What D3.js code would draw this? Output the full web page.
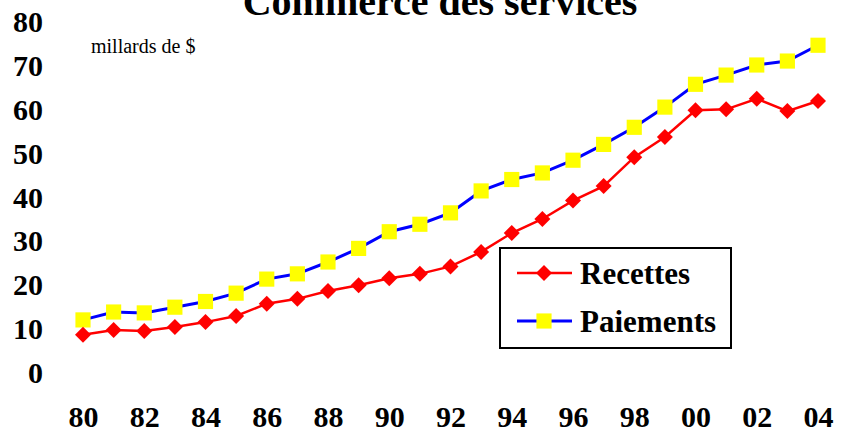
<!DOCTYPE html>
<html lang="fr">
<head>
<meta charset="UTF-8">
<title>Commerce des services</title>
<style>
  body { margin: 0; background: #fff; }
  svg { font-family: "Liberation Serif", "Times New Roman", serif; display: block; }
</style>
</head>
<body>
<svg width="850" height="431"></svg>
<script src="https://d3js.org/d3.v7.min.js"></script>
<script>
// data: milliards de $, 1980-2004
var years = [1980, 1981, 1982, 1983, 1984, 1985, 1986, 1987, 1988, 1989, 1990, 1991, 1992,
             1993, 1994, 1995, 1996, 1997, 1998, 1999, 2000, 2001, 2002, 2003, 2004];
var recettes = [8.7, 9.8, 9.6, 10.5, 11.6, 13.0, 15.8, 16.9, 18.7, 20.0, 21.6, 22.6, 24.3,
                27.6, 31.9, 35.1, 39.3, 42.6, 49.2, 53.8, 59.9, 60.1, 62.5, 59.7, 62.0];
var paiements = [12.1, 13.9, 13.7, 15.0, 16.3, 18.2, 21.4, 22.6, 25.3, 28.4, 32.2, 33.9, 36.5,
                 41.5, 44.1, 45.6, 48.5, 52.1, 56.0, 60.6, 65.8, 67.9, 70.2, 71.1, 74.7];
var yTicks = [0, 10, 20, 30, 40, 50, 60, 70, 80];
var xTicks = [1980, 1982, 1984, 1986, 1988, 1990, 1992, 1994, 1996, 1998, 2000, 2002, 2004];

var svg = d3.select("svg");

var x = d3.scaleLinear().domain([1980, 2004]).range([83, 818]);
var y = d3.scaleLinear().domain([0, 80]).range([373, 22]);

// title (clipped at the top, as in the original)
svg.append("text")
    .attr("x", 440).attr("y", 15)
    .attr("text-anchor", "middle")
    .style("font-size", "40px").style("font-weight", "bold")
    .text("Commerce des services");

svg.append("text")
    .attr("x", 91).attr("y", 53)
    .style("font-size", "20px")
    .text("millards de $");

// axes, no lines
var yAxis = svg.append("g")
    .attr("transform", "translate(49,0)")
    .call(d3.axisLeft(y).tickValues(yTicks).tickSize(0).tickPadding(6));
var xAxis = svg.append("g")
    .attr("transform", "translate(0,403)")
    .call(d3.axisBottom(x).tickValues(xTicks).tickSize(0).tickPadding(3)
        .tickFormat(function(d) { return String(d).slice(2); }));

[yAxis, xAxis].forEach(function(a) {
    a.select(".domain").remove();
    a.selectAll("text")
        .attr("fill", "#000")
        .style("font-family", "'Liberation Serif', 'Times New Roman', serif")
        .style("font-size", "30px").style("font-weight", "bold");
});

var line = d3.line()
    .x(function(d) { return x(d[0]); })
    .y(function(d) { return y(d[1]); });

var recData = years.map(function(yr, i) { return [yr, recettes[i]]; });
var paiData = years.map(function(yr, i) { return [yr, paiements[i]]; });

svg.append("path").datum(paiData)
    .attr("d", line).attr("fill", "none")
    .attr("stroke", "#0000ff").attr("stroke-width", 3);

svg.append("path").datum(recData)
    .attr("d", line).attr("fill", "none")
    .attr("stroke", "#ff0000").attr("stroke-width", 2.5);

var square = d3.symbol().type(d3.symbolSquare).size(230);
var diamond = "M0,-8L8,0L0,8L-8,0Z";

svg.selectAll(".pai").data(paiData).enter().append("path")
    .attr("class", "pai")
    .attr("d", square)
    .attr("transform", function(d) { return "translate(" + x(d[0]) + "," + y(d[1]) + ")"; })
    .attr("fill", "#ffff00");

svg.selectAll(".rec").data(recData).enter().append("path")
    .attr("class", "rec")
    .attr("d", diamond)
    .attr("transform", function(d) { return "translate(" + x(d[0]) + "," + y(d[1]) + ")"; })
    .attr("fill", "#ff0000");

// legend
var legend = svg.append("g").attr("transform", "translate(500,248)");
legend.append("rect")
    .attr("width", 231).attr("height", 100)
    .attr("fill", "#fff").attr("stroke", "#000").attr("stroke-width", 2);

var items = [
    { label: "Recettes", color: "#ff0000", fill: "#ff0000", mark: diamond, w: 2.5 },
    { label: "Paiements", color: "#0000ff", fill: "#ffff00", mark: square(), w: 3 }
];
items.forEach(function(it, i) {
    var g = legend.append("g").attr("transform", "translate(0," + (25 + i * 48) + ")");
    g.append("line").attr("x1", 17).attr("x2", 72)
        .attr("stroke", it.color).attr("stroke-width", it.w);
    g.append("path").attr("d", it.mark)
        .attr("transform", "translate(44,0)").attr("fill", it.fill);
    g.append("text").attr("x", 80).attr("y", 11)
        .style("font-size", "31px").style("font-weight", "bold")
        .text(it.label);
});
</script>
</body>
</html>
